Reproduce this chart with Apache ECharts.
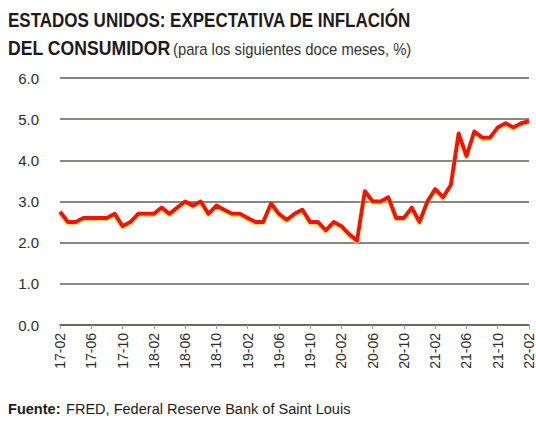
<!DOCTYPE html>
<html>
<head>
<meta charset="utf-8">
<script src="https://cdn.jsdelivr.net/npm/echarts@6/dist/echarts.min.js"></script>
<style>
html,body{margin:0;padding:0;background:#fff;}
#c{width:536px;height:423px;}
</style>
</head>
<body>
<div id="c"></div>
<script>
var months = [
  '17-02','17-03','17-04','17-05','17-06','17-07','17-08','17-09','17-10','17-11','17-12',
  '18-01','18-02','18-03','18-04','18-05','18-06','18-07','18-08','18-09','18-10','18-11','18-12',
  '19-01','19-02','19-03','19-04','19-05','19-06','19-07','19-08','19-09','19-10','19-11','19-12',
  '20-01','20-02','20-03','20-04','20-05','20-06','20-07','20-08','20-09','20-10','20-11','20-12',
  '21-01','21-02','21-03','21-04','21-05','21-06','21-07','21-08','21-09','21-10','21-11','21-12',
  '22-01','22-02'
];
var expectativa = [
  2.75,2.5,2.5,2.6,2.6,2.6,2.6,2.7,2.4,2.5,2.7,
  2.7,2.7,2.85,2.7,2.85,3.0,2.9,3.0,2.7,2.9,2.8,2.7,
  2.7,2.6,2.5,2.5,2.95,2.7,2.55,2.7,2.8,2.5,2.5,2.3,
  2.5,2.4,2.2,2.05,3.25,3.0,3.0,3.1,2.6,2.6,2.85,2.5,
  3.0,3.3,3.1,3.4,4.65,4.1,4.7,4.55,4.55,4.8,4.9,4.8,
  4.9,4.95
];
var yTicks = [0,1,2,3,4,5,6];

var titleLine1 = 'ESTADOS UNIDOS: EXPECTATIVA DE INFLACIÓN';
var titleLine2a = 'DEL CONSUMIDOR';
var titleLine2b = '(para los siguientes doce meses, %)';
var sourceBold = 'Fuente:';
var sourceText = 'FRED, Federal Reserve Bank of Saint Louis';

var chart = echarts.init(document.getElementById('c'), null, {renderer: 'svg'});
var gridCol = '#5f5f57';
chart.setOption({
  backgroundColor: '#ffffff',
  animation: false,
  grid: {left: 60, right: 6, top: 78, bottom: 98, containLabel: false},
  xAxis: {
    type: 'category',
    data: months,
    boundaryGap: false,
    axisLine: {show: true, lineStyle: {color: gridCol, width: 1.5}},
    axisTick: {show: true, interval: 3, length: 4, lineStyle: {color: '#999990', width: 1}},
    axisLabel: {
      interval: 3, rotate: 90, margin: 8,
      fontFamily: 'Liberation Sans', fontSize: 14, color: '#2a2a2a'
    },
    splitLine: {show: false}
  },
  yAxis: {
    type: 'value',
    min: yTicks[0], max: yTicks[yTicks.length - 1], interval: 1,
    axisLine: {show: false},
    axisTick: {show: false},
    axisLabel: {
      margin: 21, fontFamily: 'Liberation Sans', fontSize: 15, color: '#2e2e2e',
      formatter: function (v) { return v.toFixed(1); }
    },
    splitLine: {show: true, lineStyle: {color: gridCol, width: 1.5}}
  },
  series: [{
    type: 'line',
    data: expectativa,
    showSymbol: false,
    symbol: 'none',
    lineStyle: {
      color: '#ea150d', width: 4, join: 'round',
      shadowColor: 'rgba(245,205,60,0.8)', shadowBlur: 1, shadowOffsetX: -0.5, shadowOffsetY: 1.5
    },
    z: 5
  }],
  graphic: [
    {type: 'text', x: 8, y: 20, scaleX: 0.81, style: {
      text: titleLine1, fontFamily: 'Liberation Sans', fontWeight: 'bold', fontSize: 21,
      fill: '#1e1a1b', verticalAlign: 'middle', align: 'left'}},
    {type: 'text', x: 8, y: 47, scaleX: 0.84, style: {
      text: titleLine2a, fontFamily: 'Liberation Sans', fontWeight: 'bold', fontSize: 21,
      fill: '#1e1a1b', verticalAlign: 'middle', align: 'left'}},
    {type: 'text', x: 173, y: 49, scaleX: 0.87, style: {
      text: titleLine2b, fontFamily: 'Liberation Sans', fontWeight: 'normal', fontSize: 17,
      fill: '#333333', verticalAlign: 'middle', align: 'left'}},
    {type: 'text', x: 8, y: 409, scaleX: 0.97, style: {
      text: sourceBold, fontFamily: 'Liberation Sans', fontWeight: 'bold', fontSize: 15,
      fill: '#1e1a1b', verticalAlign: 'middle', align: 'left'}},
    {type: 'text', x: 66, y: 409, scaleX: 0.97, style: {
      text: sourceText, fontFamily: 'Liberation Sans', fontWeight: 'normal', fontSize: 15,
      fill: '#1e1a1b', verticalAlign: 'middle', align: 'left'}}
  ]
});
</script>
</body>
</html>
